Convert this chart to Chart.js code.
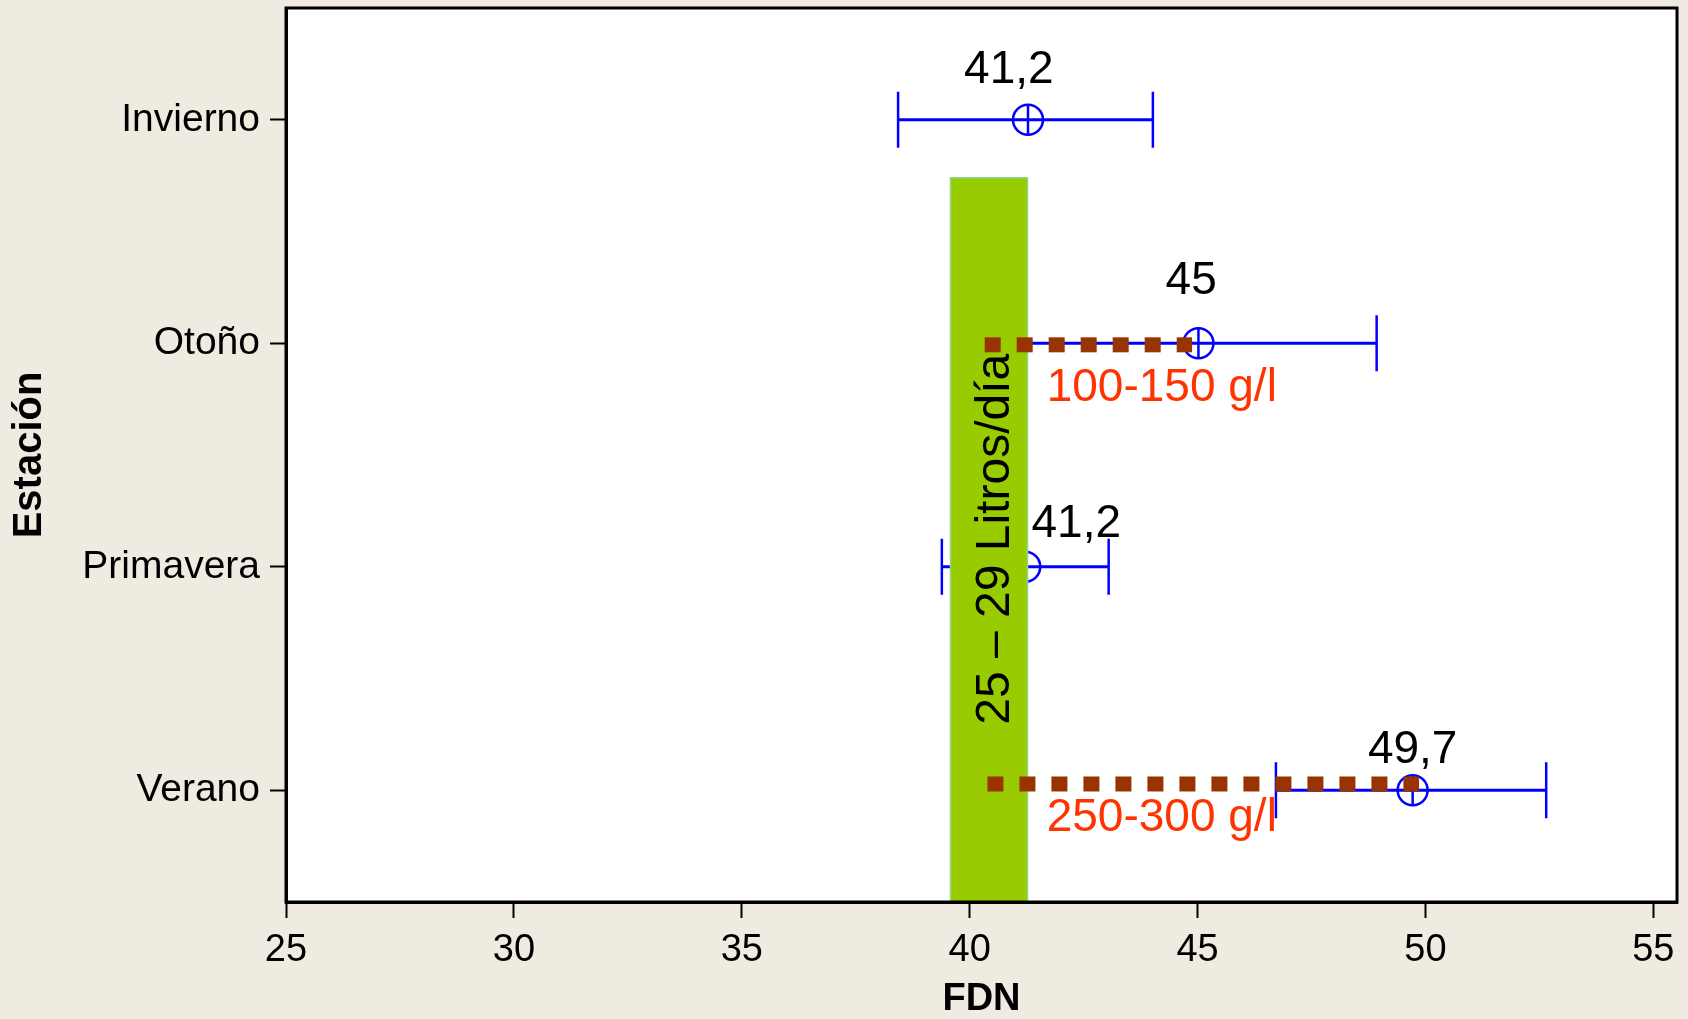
<!DOCTYPE html>
<html>
<head>
<meta charset="utf-8">
<script src="https://cdn.jsdelivr.net/npm/chart.js@4/dist/chart.umd.min.js"></script>
<style>
  html, body { margin: 0; padding: 0; background: #EFEBE0; }
  #wrap { width: 1688px; height: 1019px; }
</style>
</head>
<body>
<div id="wrap"><canvas id="c" width="1688" height="1019"></canvas></div>
<script>
// ---- data ----
const categories = ['Invierno', 'Otoño', 'Primavera', 'Verano'];
const means      = [41.28, 45.02, 41.22, 49.72];
const lowerCI    = [38.43, 41.10, 39.39, 46.72];
const upperCI    = [44.02, 48.93, 43.05, 52.65];
const meanLabels = ['41,2', '45', '41,2', '49,7'];
const xTickValues = [25, 30, 35, 40, 45, 50, 55];
const yTickValues = [0, 1, 2, 3];

// green reference band (FDN range for 25–29 L/day)
const bandX = [39.58, 41.27];
const bandY = [0.26, 3.52];
const bandText = '25 – 29 Litros/día';

// dotted dose lines
const doseLabels = ['100-150 g/l', '250-300 g/l'];
const doseStart  = [40.33, 40.39];
const doseEnd    = [44.88, 49.86];
const doseLevel  = [1.007, 2.972];

// ---- annotation placement (data units) ----
const labelX      = [40.86, 44.86, 42.34, 49.72];
const labelOffset = [-0.164, -0.219, -0.134, -0.124];
const doseTextX      = [41.69, 41.69];
const doseTextOffset = [0.25, 0.212];
const bandTextPos = { x: 40.855, y: 1.877 };

const BLUE = '#0000FF';
const BG = '#EFEBE0';
const FONT = '"Liberation Sans", Arial, sans-serif';

const datasets = [];

// dotted dose lines (top)
doseStart.forEach((s, i) => {
  datasets.push({
    data: [{x: s, y: doseLevel[i]}, {x: doseEnd[i], y: doseLevel[i]}],
    showLine: true, borderColor: '#993300', borderWidth: 15,
    borderDash: [16, 16], borderCapStyle: 'butt',
    pointRadius: 0, fill: false, order: 1
  });
});

// green band outline
datasets.push({
  data: [{x: bandX[0], y: bandY[1]}, {x: bandX[0], y: bandY[0]}, {x: bandX[1], y: bandY[0]}, {x: bandX[1], y: bandY[1]}],
  showLine: true, borderColor: '#8FD68F', borderWidth: 1.5, pointRadius: 0, fill: false, order: 4
});
// green band fill
datasets.push({
  data: [{x: bandX[0], y: bandY[0]}, {x: bandX[1], y: bandY[0]}],
  showLine: true, borderColor: '#99CC00', borderWidth: 0, pointRadius: 0,
  backgroundColor: '#99CC00', fill: {value: bandY[1]}, order: 5
});

// mean markers: circle + vertical stroke
datasets.push({
  data: means.map((m, i) => ({x: m, y: yTickValues[i]})),
  showLine: false, pointStyle: 'circle', pointRadius: 15,
  pointBorderWidth: 2.5, pointBorderColor: BLUE, pointBackgroundColor: 'rgba(0,0,0,0)', order: 9
});
datasets.push({
  data: means.map((m, i) => ({x: m, y: yTickValues[i]})),
  showLine: false, pointStyle: 'line', pointRotation: 90, pointRadius: 15,
  pointBorderWidth: 2.5, pointBorderColor: BLUE, order: 9
});

// confidence interval lines with whisker caps
categories.forEach((c, i) => {
  datasets.push({
    data: [{x: lowerCI[i], y: yTickValues[i]}, {x: upperCI[i], y: yTickValues[i]}],
    showLine: true, borderColor: BLUE, borderWidth: 3, fill: false,
    pointStyle: 'line', pointRotation: 90, pointRadius: 28,
    pointBorderWidth: 2.5, pointBorderColor: BLUE, order: 10
  });
});

const bgPlugin = {
  id: 'bg',
  beforeDraw(chart) {
    const {ctx, chartArea: a} = chart;
    ctx.save();
    ctx.fillStyle = BG;
    ctx.fillRect(0, 0, chart.width, chart.height);
    ctx.fillStyle = '#FFFFFF';
    ctx.fillRect(a.left, a.top, a.right - a.left, a.bottom - a.top);
    ctx.restore();
  },
  afterDraw(chart) {
    const {ctx, chartArea: a} = chart;
    ctx.save();
    ctx.strokeStyle = '#000';
    ctx.lineWidth = 3;
    ctx.strokeRect(a.left, a.top, a.right - a.left, a.bottom - a.top);
    ctx.restore();
  }
};

const textPlugin = {
  id: 'texts',
  afterDatasetsDraw(chart) {
    const {ctx, scales: {x, y}} = chart;
    ctx.save();
    // mean labels
    ctx.fillStyle = '#000';
    ctx.font = '46px ' + FONT;
    ctx.textAlign = 'center';
    ctx.textBaseline = 'alphabetic';
    meanLabels.forEach((t, i) => {
      ctx.fillText(t, x.getPixelForValue(labelX[i]), y.getPixelForValue(yTickValues[i] + labelOffset[i]));
    });
    // dose labels
    ctx.fillStyle = '#FF3300';
    ctx.textAlign = 'left';
    doseLabels.forEach((t, i) => {
      ctx.fillText(t, x.getPixelForValue(doseTextX[i]), y.getPixelForValue(doseLevel[i] + doseTextOffset[i]));
    });
    // band text, rotated
    ctx.fillStyle = '#000';
    ctx.font = '48px ' + FONT;
    ctx.translate(x.getPixelForValue(bandTextPos.x), y.getPixelForValue(bandTextPos.y));
    ctx.rotate(-Math.PI / 2);
    ctx.textAlign = 'center';
    ctx.fillText(bandText, 0, 0);
    ctx.restore();
  }
};

new Chart(document.getElementById('c'), {
  type: 'scatter',
  data: { datasets },
  plugins: [bgPlugin, textPlugin],
  options: {
    responsive: false,
    devicePixelRatio: 1,
    animation: false,
    layout: { autoPadding: false, padding: { top: 8, right: 11, left: 0, bottom: 0 } },
    plugins: { legend: { display: false }, tooltip: { enabled: false } },
    scales: {
      x: {
        type: 'linear', min: 25, max: 55.52,
        afterBuildTicks(s) { s.ticks = xTickValues.map(v => ({value: v})); },
        afterFit(s) { s.height = 117; s.paddingLeft = 0; s.paddingRight = 0; },
        grid: { display: true, drawOnChartArea: false, drawTicks: true, tickLength: 16, tickColor: '#000', tickWidth: 2 },
        border: { display: true, color: '#000', width: 3 },
        ticks: { color: '#000', font: { family: FONT, size: 38 }, padding: 10, maxRotation: 0, autoSkip: false,
                 callback: v => String(v) },
        title: { display: true, text: 'FDN', color: '#000', font: { family: FONT, size: 38, weight: 'bold', lineHeight: 1 },
                 padding: { top: 0, bottom: 0 } }
      },
      y: {
        type: 'linear', min: -0.5, max: 3.5, reverse: true,
        afterBuildTicks(s) { s.ticks = yTickValues.map(v => ({value: v})); },
        afterFit(s) { s.width = 286; s.paddingTop = 0; s.paddingBottom = 0; },
        grid: { display: true, drawOnChartArea: false, drawTicks: true, tickLength: 16, tickColor: '#000', tickWidth: 2 },
        border: { display: true, color: '#000', width: 3 },
        ticks: { color: '#000', font: { family: FONT, size: 39 }, padding: 10, autoSkip: false,
                 callback: v => categories[v] },
        title: { display: true, text: 'Estación', color: '#000', font: { family: FONT, size: 40, weight: 'bold', lineHeight: 1 },
                 padding: { top: 10, bottom: 0 } }
      }
    }
  }
});
</script>
</body>
</html>
